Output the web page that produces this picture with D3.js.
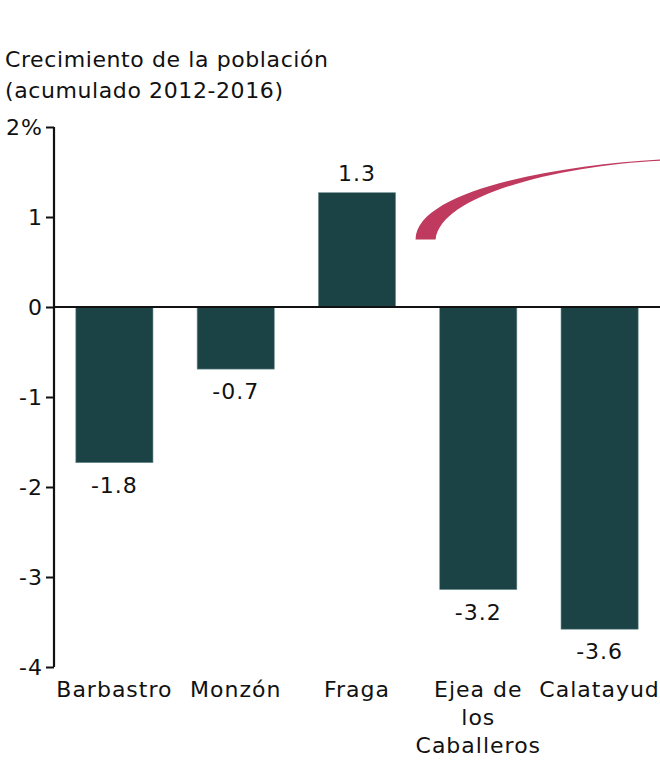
<!DOCTYPE html>
<html>
<head>
<meta charset="utf-8">
<script src="https://cdn.jsdelivr.net/npm/d3@7"></script>
<style>
  body { margin: 0; background: #fff; }
  text { font-family: Verdana, "DejaVu Sans", sans-serif; fill: #111; }
</style>
</head>
<body>
<div id="chart"></div>
<script>
// data
const towns = ["Barbastro", "Monzón", "Fraga", "Ejea de los Caballeros", "Calatayud"];
const townLines = [["Barbastro"], ["Monzón"], ["Fraga"], ["Ejea de", "los", "Caballeros"], ["Calatayud"]];
const growth = [-1.73, -0.69, 1.27, -3.14, -3.58];
const growthLabels = ["-1.8", "-0.7", "1.3", "-3.2", "-3.6"];
const yTicks = [2, 1, 0, -1, -2, -3, -4];
const titleLines = ["Crecimiento de la población", "(acumulado 2012-2016)"];

const width = 660,
  height = 760,
  margin = { top: 127, bottom: 93, left: 54, right: 0 };

const svg = d3.select("#chart")
  .append("svg")
  .attr("width", width)
  .attr("height", height)

const x = d3.scaleBand()
  .domain(towns)
  .range([margin.left, width - margin.right])
  .paddingInner(0.364)
  .paddingOuter(0.18)

const y = d3.scaleLinear()
  .domain([-4, 2])
  .range([height - margin.bottom, margin.top])

// title
svg.append("text")
  .attr("x", 5)
  .attr("y", 67)
  .attr("font-size", 22)
  .attr("letter-spacing", 0.6)
  .selectAll("tspan")
  .data(titleLines)
  .join("tspan")
  .attr("x", 5)
  .attr("dy", (d, i) => i === 0 ? 0 : 31)
  .text(d => d)

const rows = towns.map((t, i) => ({ town: t, value: growth[i], label: growthLabels[i], lines: townLines[i] }))

// bars
svg.selectAll("rect.bar")
  .data(rows)
  .join("rect")
  .attr("class", "bar")
  .attr("x", d => x(d.town))
  .attr("width", x.bandwidth())
  .attr("y", d => y(Math.max(0, d.value)))
  .attr("height", d => Math.abs(y(d.value) - y(0)))
  .attr("fill", "#1b4346")
  .attr("stroke", "#6f8f91")
  .attr("stroke-width", 0.6)

// value labels
svg.selectAll("text.val")
  .data(rows)
  .join("text")
  .attr("class", "val")
  .attr("x", d => x(d.town) + x.bandwidth() / 2)
  .attr("y", d => d.value >= 0 ? y(d.value) - 12 : y(d.value) + 30)
  .attr("text-anchor", "middle")
  .attr("font-size", 22)
  .attr("letter-spacing", 1)
  .text(d => d.label)

// curved swoosh decoration, starting past the Fraga bar
const sx = x("Fraga") + x.bandwidth() + 20;
const sy = y(0.75);
const swoosh = d3.path();
swoosh.moveTo(sx, sy);
swoosh.bezierCurveTo(sx, y(1.3), sx + 145, y(1.58), width, y(1.64));
swoosh.lineTo(width, y(1.625));
swoosh.bezierCurveTo(sx + 145, y(1.57), sx + 25, y(1.25), sx + 20, sy);
swoosh.closePath();
svg.append("path")
  .attr("d", swoosh.toString())
  .attr("fill", "#c0395f")

// zero line
svg.append("line")
  .attr("x1", margin.left)
  .attr("x2", width)
  .attr("y1", y(0))
  .attr("y2", y(0))
  .attr("stroke", "#111")
  .attr("stroke-width", 2)

// y axis
const yAxis = d3.axisLeft(y)
  .tickValues(yTicks)
  .tickSize(8)
  .tickPadding(3)
  .tickFormat(d => d === 2 ? "2%" : d3.format("d")(d).replace("−", "-"))

const yAxisGroup = svg.append("g")
  .attr("transform", `translate(${margin.left}, 0)`)
  .call(yAxis)

yAxisGroup.select(".domain")
  .attr("d", `M0,${y(2)}V${y(-4)}`)
  .attr("stroke", "#111")
  .attr("stroke-width", 2.2)
yAxisGroup.selectAll(".tick line").attr("stroke", "#111").attr("stroke-width", 2)
yAxisGroup.selectAll(".tick text")
  .attr("font-size", 22)
  .attr("letter-spacing", 1)
  .attr("font-family", "Verdana, 'DejaVu Sans', sans-serif")
  .attr("fill", "#111")

// category labels
svg.selectAll("text.cat")
  .data(rows)
  .join("text")
  .attr("class", "cat")
  .attr("text-anchor", "middle")
  .attr("font-size", 22)
  .attr("letter-spacing", 1)
  .attr("y", 697)
  .selectAll("tspan")
  .data(d => d.lines.map(l => ({ l, cx: x(d.town) + x.bandwidth() / 2 })))
  .join("tspan")
  .attr("x", d => d.cx)
  .attr("dy", (d, i) => i === 0 ? 0 : 28)
  .text(d => d.l)
</script>
</body>
</html>
